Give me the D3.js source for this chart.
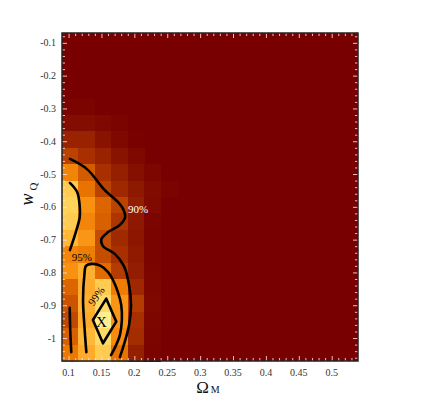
<!DOCTYPE html>
<html><head><meta charset="utf-8">
<script src="https://cdn.jsdelivr.net/npm/d3@7"></script>
<style>body{margin:0;background:#fff}svg{display:block}</style>
</head><body>
<svg id="c" width="436" height="410"></svg>
<script>
// ---- data ----
const omegaEdges = d3.range(19).map(i => 0.09 + 0.025 * i);      // 18 columns
const wEdges = d3.range(21).map(j => -0.07 - 0.05 * j);           // 20 rows (top->bottom)
// likelihood (0..1) for the first 7 columns of each row, top row first; remaining columns are 0
const likeRows = [
  [0,0,0,0,0,0,0],
  [0,0,0,0,0,0,0],
  [0,0,0,0,0,0,0],
  [0,0,0,0,0,0,0],
  [0.02,0.02,0,0,0,0,0],
  [0.08,0.08,0.05,0.02,0,0,0],
  [0.22,0.22,0.12,0.05,0.01,0,0],
  [0.38,0.30,0.22,0.12,0.05,0,0],
  [0.65,0.48,0.30,0.20,0.10,0.04,0],
  [0.88,0.58,0.38,0.25,0.15,0.07,0.02],
  [0.90,0.70,0.52,0.38,0.18,0.06,0],
  [0.88,0.66,0.50,0.32,0.15,0.03,0],
  [0.82,0.72,0.42,0.26,0.14,0.02,0],
  [0.66,0.62,0.42,0.30,0.16,0.02,0],
  [0.70,0.80,0.55,0.35,0.18,0.03,0],
  [0.52,0.78,0.88,0.62,0.25,0.04,0],
  [0.45,0.80,0.92,0.72,0.35,0.05,0],
  [0.40,0.78,0.98,0.72,0.30,0.04,0],
  [0.50,0.82,0.92,0.68,0.28,0.03,0],
  [0.60,0.78,0.88,0.58,0.20,0.02,0]
];
const xTicks = [0.1,0.15,0.2,0.25,0.3,0.35,0.4,0.45,0.5];
const xTickLabels = ["0.1","0.15","0.2","0.25","0.3","0.35","0.4","0.45","0.5"];
const yTicks = [-0.1,-0.2,-0.3,-0.4,-0.5,-0.6,-0.7,-0.8,-0.9,-1];
const yTickLabels = ["-0.1","-0.2","-0.3","-0.4","-0.5","-0.6","-0.7","-0.8","-0.9","-1"];
// contour pieces [Omega_M, w_Q]
const contour90 = [[0.102,-0.454],[0.128,-0.485],[0.155,-0.549],[0.175,-0.585],[0.183,-0.607],[0.186,-0.631],[0.178,-0.655],[0.160,-0.677],[0.150,-0.698],[0.152,-0.719],[0.1706,-0.744],[0.184,-0.780],[0.1919,-0.838],[0.1949,-0.899],[0.192,-0.960],[0.184,-1.021],[0.178,-1.058]];
const contour95a = [[0.102,-0.527],[0.113,-0.555],[0.117,-0.600],[0.117,-0.631],[0.111,-0.677],[0.102,-0.732]];
const contour95b = [[0.127,-1.043],[0.1245,-0.976],[0.122,-0.884],[0.124,-0.808],[0.1265,-0.780],[0.1356,-0.774],[0.149,-0.780],[0.160,-0.799],[0.1675,-0.823],[0.175,-0.860],[0.180,-0.899],[0.181,-0.945],[0.178,-0.991],[0.171,-1.027],[0.1645,-1.052]];
const contour95c = [[0.1017,-0.908],[0.1025,-0.975],[0.1041,-1.043]];
const contour99 = [[0.1573,-0.880],[0.1725,-0.950],[0.1523,-1.016],[0.137,-0.945]];
const bestFit = [0.15,-0.95];
const contourLabels = [
  {text:"90%", pos:[0.2055,-0.607], color:"#ffffff", angle:0},
  {text:"95%", pos:[0.120,-0.753], color:"#000000", angle:0},
  {text:"99%", pos:[0.142,-0.872], color:"#000000", angle:-55}
];
// ---- chart ----
const svg = d3.select("#c");
const x = d3.scaleLinear().domain([0.09,0.54]).range([62,358]);
const y = d3.scaleLinear().domain([-1.07,-0.07]).range([361,33]);
const color = d3.scaleLinear()
  .domain([0,0.1,0.2,0.3,0.4,0.5,0.6,0.7,0.8,0.9,1])
  .range(["#780000","#861000","#952000","#a83000","#c04800","#d86000","#ec7800","#f89010","#ffb030","#ffd258","#fff59a"])
  .clamp(true);

const cells = [];
for (let j = 0; j < 20; j++) for (let i = 0; i < 18; i++) {
  cells.push({i, j, v: i < likeRows[j].length ? likeRows[j][i] : 0});
}
svg.append("rect").attr("x",62).attr("y",33).attr("width",296).attr("height",328).attr("fill",color(0));
svg.append("g").attr("shape-rendering","crispEdges").selectAll("rect").data(cells.filter(d => d.v > 0)).join("rect")
  .attr("x", d => x(omegaEdges[d.i]))
  .attr("y", d => y(wEdges[d.j]))
  .attr("width", d => x(omegaEdges[d.i+1]) - x(omegaEdges[d.i]) + 0.6)
  .attr("height", d => y(wEdges[d.j+1]) - y(wEdges[d.j]) + 0.6)
  .attr("fill", d => color(d.v));

// ticks (inward)
const tickCol = "rgba(255,225,225,0.85)";
const minorX = d3.range(10, 54).map(k => k/100).filter(v => !xTicks.some(t => Math.abs(t - v) < 1e-9));
const minorY = d3.range(4, 54).map(k => -k/50).filter(v => v > -1.07 && !yTicks.some(t => Math.abs(t - v) < 1e-9));
function ax(gen, tr, vals, size) {
  const g = svg.append("g").attr("transform", tr)
    .call(gen.tickValues(vals).tickSize(size).tickFormat(""));
  g.select(".domain").remove();
  g.selectAll("line").attr("stroke", tickCol).attr("stroke-width", 1);
  g.selectAll("text").remove();
}
ax(d3.axisBottom(x), "translate(0,361)", xTicks, -5);
ax(d3.axisBottom(x), "translate(0,361)", minorX, -3);
ax(d3.axisTop(x), "translate(0,33)", xTicks, -5);
ax(d3.axisTop(x), "translate(0,33)", minorX, -3);
ax(d3.axisLeft(y), "translate(62,0)", yTicks, -5);
ax(d3.axisLeft(y), "translate(62,0)", minorY, -3);
ax(d3.axisRight(y), "translate(358,0)", yTicks, -5);
ax(d3.axisRight(y), "translate(358,0)", minorY, -3);

// contours
const line = d3.line().x(d => x(d[0])).y(d => y(d[1])).curve(d3.curveCatmullRom.alpha(0.5));
const lineClosed = d3.line().x(d => x(d[0])).y(d => y(d[1])).curve(d3.curveLinearClosed);
const cg = svg.append("g").attr("fill","none").attr("stroke","#000").attr("stroke-width",2.6)
  .attr("stroke-linecap","round").attr("stroke-linejoin","round");
[contour90, contour95a, contour95b, contour95c].forEach(c => cg.append("path").attr("d", line(c)));
cg.append("path").attr("d", lineClosed(contour99));

// labels on contours
svg.append("g").selectAll("text").data(contourLabels).join("text")
  .attr("transform", d => `translate(${x(d.pos[0])},${y(d.pos[1])}) rotate(${d.angle})`)
  .attr("text-anchor","middle").attr("dy","0.35em")
  .attr("font-family","Liberation Serif, serif").attr("font-size",11)
  .attr("fill", d => d.color).text(d => d.text);

svg.append("text").attr("x", x(bestFit[0])).attr("y", y(bestFit[1]))
  .attr("text-anchor","middle").attr("dy","0.36em")
  .attr("font-family","Liberation Serif, serif").attr("font-size",15).text("X");

// frame
svg.append("rect").attr("x",62).attr("y",33).attr("width",296).attr("height",328)
  .attr("fill","none").attr("stroke","#222").attr("stroke-width",1.5);

// tick labels
svg.append("g").selectAll("text").data(xTicks).join("text")
  .attr("x", d => x(d)).attr("y", 376).attr("text-anchor","middle")
  .attr("font-family","Liberation Serif, serif").attr("font-size",10).attr("fill","#333")
  .text((d,i) => xTickLabels[i]);
svg.append("g").selectAll("text").data(yTicks).join("text")
  .attr("x", 56).attr("y", d => y(d)).attr("dy","0.35em").attr("text-anchor","end")
  .attr("font-family","Liberation Serif, serif").attr("font-size",10).attr("fill","#333")
  .text((d,i) => yTickLabels[i]);

// axis titles
const xt = svg.append("text").attr("x", 208).attr("y", 393).attr("text-anchor","middle")
  .attr("font-family","Liberation Serif, serif").attr("fill","#111");
xt.append("tspan").attr("font-size",17).text("Ω");
xt.append("tspan").attr("font-size",10).attr("dx",2).text("M");
const yt = svg.append("text").attr("transform","translate(33,194) rotate(-90)").attr("text-anchor","middle")
  .attr("font-family","Liberation Serif, serif").attr("fill","#111");
yt.append("tspan").attr("font-size",18).attr("font-style","italic").text("w");
yt.append("tspan").attr("font-size",11).attr("dx",3).attr("dy",4).text("Q");
</script>
</body></html>
